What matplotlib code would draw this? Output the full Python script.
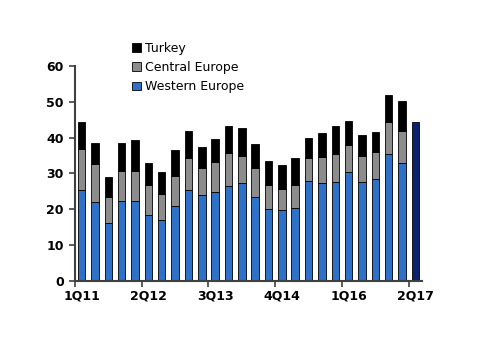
import numpy as np
import matplotlib
matplotlib.use("Agg")
import matplotlib.pyplot as plt

# quarterly values, 1Q11 .. 2Q17
quarters = ['1Q11', '2Q11', '3Q11', '4Q11', '1Q12', '2Q12', '3Q12', '4Q12',
            '1Q13', '2Q13', '3Q13', '4Q13', '1Q14', '2Q14', '3Q14', '4Q14',
            '1Q15', '2Q15', '3Q15', '4Q15', '1Q16', '2Q16', '3Q16', '4Q16',
            '1Q17', '2Q17']

western = [25.4, 22.1, 16.1, 22.4, 22.4, 18.5, 17.0, 20.8, 25.3, 23.9,
           24.8, 26.4, 27.3, 23.3, 20.1, 19.9, 20.3, 27.8, 27.3, 27.6,
           30.4, 27.5, 28.4, 35.3, 32.8]
total_to_central = [36.7, 32.7, 23.3, 30.6, 30.8, 26.7, 24.2, 29.4, 34.2, 31.5,
                    33.1, 35.6, 34.9, 31.6, 26.7, 25.7, 26.7, 34.2, 34.6, 35.5,
                    37.9, 35.0, 36.1, 44.3, 41.9]
total = [44.3, 38.4, 28.9, 38.6, 39.3, 32.8, 30.5, 36.5, 41.7, 37.3,
         39.6, 43.2, 42.8, 38.1, 33.4, 32.3, 34.4, 39.9, 41.2, 43.2,
         44.5, 40.7, 41.5, 52.0, 50.1]
latest_total = 44.4

central = [c - w for c, w in zip(total_to_central, western)]
turkey = [t - c for t, c in zip(total, total_to_central)]

label_every = 5

fig = plt.figure(figsize=(5, 3.54), dpi=100)
ax = fig.add_axes([0.15, 0.206, 0.694, 0.608])

x = np.arange(len(western))
w = 0.56
ax.bar(x, western, w, color='#2D71C8', edgecolor='black', linewidth=0.6, label='Western Europe')
ax.bar(x, central, w, bottom=western, color='#8C8C8C', edgecolor='black', linewidth=0.6,
       label='Central Europe')
ax.bar(x, turkey, w, bottom=total_to_central, color='black', edgecolor='black', linewidth=0.6,
       label='Turkey')
ax.bar([len(western)], [latest_total], w, color='#0B2170', edgecolor='black', linewidth=0.6)

ax.set_xlim(-0.5, len(quarters) - 0.5)
ax.set_ylim(0, 60)
ax.set_yticks(range(0, 61, 10))

ax.set_xticks(range(0, len(quarters), label_every))
ax.set_xticklabels(quarters[::label_every])
ax.set_xticks(np.arange(-0.5, len(quarters), label_every), minor=True)
ax.tick_params(axis='x', which='major', length=0, pad=6)
ax.tick_params(axis='x', which='minor', length=4, width=1.2, color='#404040', direction='out')
ax.tick_params(axis='y', length=4, width=1.2, color='#404040', pad=4)
for lab in ax.get_xticklabels() + ax.get_yticklabels():
    lab.set_fontweight('bold')
    lab.set_fontsize(9)

for s in ['top', 'right']:
    ax.spines[s].set_visible(False)
for s in ['left', 'bottom']:
    ax.spines[s].set_color('#404040')
    ax.spines[s].set_linewidth(1.5)

h, l = ax.get_legend_handles_labels()
ax.legend(h[::-1], l[::-1], loc='upper left', bbox_to_anchor=(0.15, 1.135), frameon=False,
          fontsize=9, handlelength=0.7, handleheight=0.7, handletextpad=0.3,
          labelspacing=0.5, borderaxespad=0)

fig.savefig('out.png', dpi=100)
